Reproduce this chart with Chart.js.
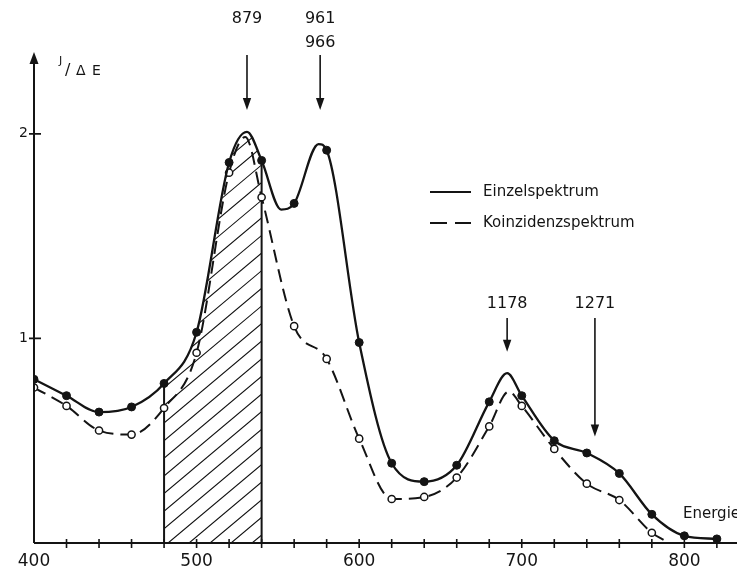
<!DOCTYPE html>
<html>
<head>
<meta charset="utf-8">
<script src="https://cdn.jsdelivr.net/npm/chart.js@4.4.1/dist/chart.umd.min.js"></script>
<style>
  html, body { margin: 0; padding: 0; background: #fff; }
  #wrap { width: 737px; height: 571px; }
</style>
</head>
<body>
<div id="wrap"><canvas id="spectrum" width="737" height="571"></canvas></div>
<script>
const einzelE = [400, 420, 440, 460, 480, 500, 520, 540, 560, 580, 600, 620, 640, 660, 680, 700, 720, 740, 760, 780, 800, 820];
const einzelJ = [0.80, 0.72, 0.64, 0.665, 0.78, 1.03, 1.86, 1.87, 1.66, 1.92, 0.98, 0.39, 0.30, 0.38, 0.69, 0.72, 0.50, 0.44, 0.34, 0.14, 0.035, 0.02];
const koinzE = [400, 420, 440, 460, 480, 500, 520, 540, 560, 580, 600, 620, 640, 660, 680, 700, 720, 740, 760, 780];
const koinzJ = [0.76, 0.67, 0.55, 0.53, 0.66, 0.93, 1.81, 1.69, 1.06, 0.90, 0.51, 0.215, 0.225, 0.32, 0.57, 0.67, 0.46, 0.29, 0.21, 0.05];

// extra points (peak tops, dips, end) - no markers
const einzelCurveE = [531, 552, 575, 691];
const einzelCurveJ = [2.01, 1.63, 1.95, 0.83];
const koinzCurveE = [530, 692, 788];
const koinzCurveJ = [1.985, 0.74, 0.012];

// marked lines
const peakLabels = [['879'], ['961', '966'], ['1178'], ['1271']];
const peakE = [531, 576, 691, 745];

// hatched window
const hatchFrom = 480;
const hatchTo = 540;

const seriesNames = ['Einzelspektrum', 'Koinzidenzspektrum'];
const xTickLabels = [400, 500, 600, 700, 800];
const yTickLabels = [1, 2];

function buildPoints(ex, ey, cx, cy) {
    const pts = ex.map((x, i) => ({ x: x, y: ey[i], m: true }));
    cx.forEach((x, i) => pts.push({ x: x, y: cy[i], m: false }));
    pts.sort((a, b) => a.x - b.x);
    return pts;
}

const INK = '#141414';

// arrow geometry (value units), text rows
const arrowCfg = [
    { textY: [2.56], top: 2.385, tip: 2.116 },
    { textY: [2.56, 2.445], top: 2.385, tip: 2.116 },
    { textY: [1.17], top: 1.10, tip: 0.935 },
    { textY: [1.17], top: 1.10, tip: 0.52 }
];

function arrowHead(ctx, x, y, dir, half, len) {
    ctx.beginPath();
    ctx.moveTo(x, y);
    ctx.lineTo(x - half, y - dir * len);
    ctx.lineTo(x + half, y - dir * len);
    ctx.closePath();
    ctx.fill();
}

// hatched area under the single spectrum between 480 and 540
const hatchPlugin = {
    id: 'hatch',
    beforeDatasetsDraw(chart) {
        const ctx = chart.ctx;
        const xs = chart.scales.x, ys = chart.scales.y;
        const meta = chart.getDatasetMeta(0);
        const line = meta.dataset;
        line.updateControlPoints(chart.chartArea, 'x');
        const x1 = xs.getPixelForValue(hatchFrom);
        const x2 = xs.getPixelForValue(hatchTo);
        const y0 = ys.getPixelForValue(0);
        const pts = meta.data;

        ctx.save();
        ctx.beginPath();
        ctx.rect(x1, 0, x2 - x1, y0);
        ctx.clip();
        ctx.beginPath();
        line.path(ctx);
        ctx.lineTo(pts[pts.length - 1].x, y0);
        ctx.lineTo(pts[0].x, y0);
        ctx.closePath();
        ctx.clip();
        ctx.strokeStyle = INK;
        ctx.lineWidth = 1.1;
        ctx.beginPath();
        const k = Math.tan(40 * Math.PI / 180);
        for (let x = x1 - 500; x < x2 + 10; x += 21) {
            ctx.moveTo(x, y0);
            ctx.lineTo(x + 500, y0 - 500 * k);
        }
        ctx.stroke();
        ctx.restore();

        // side lines of the window
        ctx.save();
        ctx.strokeStyle = INK;
        ctx.lineWidth = 2;
        [hatchFrom, hatchTo].forEach(e => {
            const i = einzelE.indexOf(e);
            const px = xs.getPixelForValue(e);
            ctx.beginPath();
            ctx.moveTo(px, y0);
            ctx.lineTo(px, ys.getPixelForValue(einzelJ[i]));
            ctx.stroke();
        });
        ctx.restore();
    }
};

// axes with crossing tick marks and arrow on J axis
const axesPlugin = {
    id: 'axesMarks',
    afterDraw(chart) {
        const ctx = chart.ctx;
        const xs = chart.scales.x, ys = chart.scales.y;
        const y0 = ys.getPixelForValue(0);
        const x0 = xs.getPixelForValue(xs.min);
        ctx.save();
        ctx.strokeStyle = INK;
        ctx.fillStyle = INK;
        ctx.lineWidth = 2;
        ctx.beginPath();
        ctx.moveTo(x0, y0);
        ctx.lineTo(chart.width, y0);
        ctx.moveTo(x0, y0);
        ctx.lineTo(x0, chart.chartArea.top + 6);
        ctx.stroke();
        arrowHead(ctx, x0, chart.chartArea.top, -1, 4.5, 12);

        ctx.lineWidth = 1.6;
        ctx.beginPath();
        xs.ticks.forEach(t => {
            if (t.value <= xs.min) return;
            const px = xs.getPixelForValue(t.value);
            ctx.moveTo(px, y0 - 4);
            ctx.lineTo(px, y0 + 5);
        });
        ys.ticks.forEach(t => {
            if (t.value <= 0) return;
            const py = ys.getPixelForValue(t.value);
            ctx.moveTo(x0 - 5, py);
            ctx.lineTo(x0 + 7, py);
        });
        ctx.stroke();

        // axis titles
        ctx.textBaseline = 'alphabetic';
        ctx.textAlign = 'left';
        ctx.font = '11px "DejaVu Sans"';
        ctx.fillText('J', 59, 64);
        ctx.font = '16px "DejaVu Sans"';
        ctx.fillText('/', 65, 75);
        ctx.font = '14px "DejaVu Sans"';
        ctx.fillText('Δ', 76, 75);
        ctx.fillText('E', 92, 75);
        ctx.font = '15px "DejaVu Sans"';
        ctx.textBaseline = 'middle';
        ctx.fillText('Energie', 683, 514);
        ctx.restore();
    }
};

// peak labels with arrows
const peakPlugin = {
    id: 'peaks',
    afterDraw(chart) {
        const ctx = chart.ctx;
        const xs = chart.scales.x, ys = chart.scales.y;
        ctx.save();
        ctx.strokeStyle = INK;
        ctx.fillStyle = INK;
        ctx.font = '16px "DejaVu Sans"';
        ctx.textAlign = 'center';
        ctx.textBaseline = 'middle';
        peakE.forEach((e, i) => {
            const cfg = arrowCfg[i];
            const px = xs.getPixelForValue(e);
            peakLabels[i].forEach((txt, j) => {
                ctx.fillText(txt, px, ys.getPixelForValue(cfg.textY[j]));
            });
            const yt = ys.getPixelForValue(cfg.top);
            const yp = ys.getPixelForValue(cfg.tip);
            ctx.lineWidth = 1.6;
            ctx.beginPath();
            ctx.moveTo(px, yt);
            ctx.lineTo(px, yp - 6);
            ctx.stroke();
            arrowHead(ctx, px, yp, 1, 4.2, 12);
        });
        ctx.restore();
    }
};

// legend drawn as in the figure
const legendPlugin = {
    id: 'figLegend',
    afterDraw(chart) {
        const ctx = chart.ctx;
        const rows = [192, 223];
        ctx.save();
        ctx.strokeStyle = INK;
        ctx.fillStyle = INK;
        ctx.lineWidth = 2;
        ctx.font = '15px "DejaVu Sans"';
        ctx.textBaseline = 'middle';
        chart.data.datasets.slice(0, 2).forEach((ds, i) => {
            ctx.setLineDash(i === 0 ? [] : [17, 8]);
            ctx.beginPath();
            ctx.moveTo(430, rows[i]);
            ctx.lineTo(471, rows[i]);
            ctx.stroke();
            ctx.setLineDash([]);
            ctx.fillText(ds.label, 483, rows[i]);
        });
        ctx.restore();
    }
};

Chart.defaults.font.family = '"DejaVu Sans", sans-serif';
Chart.defaults.color = INK;

new Chart(document.getElementById('spectrum'), {
    type: 'line',
    data: {
        datasets: [{
            label: seriesNames[0],
            data: buildPoints(einzelE, einzelJ, einzelCurveE, einzelCurveJ),
            borderColor: INK,
            borderWidth: 2.3,
            cubicInterpolationMode: 'monotone',
            pointRadius: c => (c.raw && c.raw.m ? 4 : 0),
            pointBackgroundColor: INK,
            pointBorderColor: INK,
            pointBorderWidth: 1,
            fill: false
        }, {
            label: seriesNames[1],
            data: buildPoints(koinzE, koinzJ, koinzCurveE, koinzCurveJ),
            borderColor: INK,
            borderWidth: 2,
            borderDash: [13, 7],
            cubicInterpolationMode: 'monotone',
            pointRadius: c => (c.raw && c.raw.m ? 3.6 : 0),
            pointBackgroundColor: '#fff',
            pointBorderColor: INK,
            pointBorderWidth: 1.5,
            fill: false
        }]
    },
    options: {
        responsive: false,
        animation: false,
        devicePixelRatio: 1,
        layout: { padding: { top: 52, right: 0, left: 0, bottom: 0 } },
        plugins: {
            legend: { display: false },
            tooltip: { enabled: false }
        },
        scales: {
            x: {
                type: 'linear',
                min: 400,
                max: 829,
                grid: { display: false, drawTicks: false },
                border: { display: false },
                afterFit: s => { s.height = 28; },
                ticks: {
                    stepSize: 20,
                    includeBounds: false,
                    autoSkip: false,
                    maxRotation: 0,
                    padding: 8,
                    font: { size: 17 },
                    callback: v => (xTickLabels.includes(v) ? String(v) : '')
                }
            },
            y: {
                min: 0,
                max: 2.4,
                grid: { display: false, drawTicks: false },
                border: { display: false },
                afterFit: s => { s.width = 34; },
                ticks: {
                    stepSize: 1,
                    includeBounds: false,
                    padding: 6,
                    font: { size: 14 },
                    callback: v => (yTickLabels.includes(v) ? String(v) : '')
                }
            }
        }
    },
    plugins: [hatchPlugin, axesPlugin, peakPlugin, legendPlugin]
});
</script>
</body>
</html>
